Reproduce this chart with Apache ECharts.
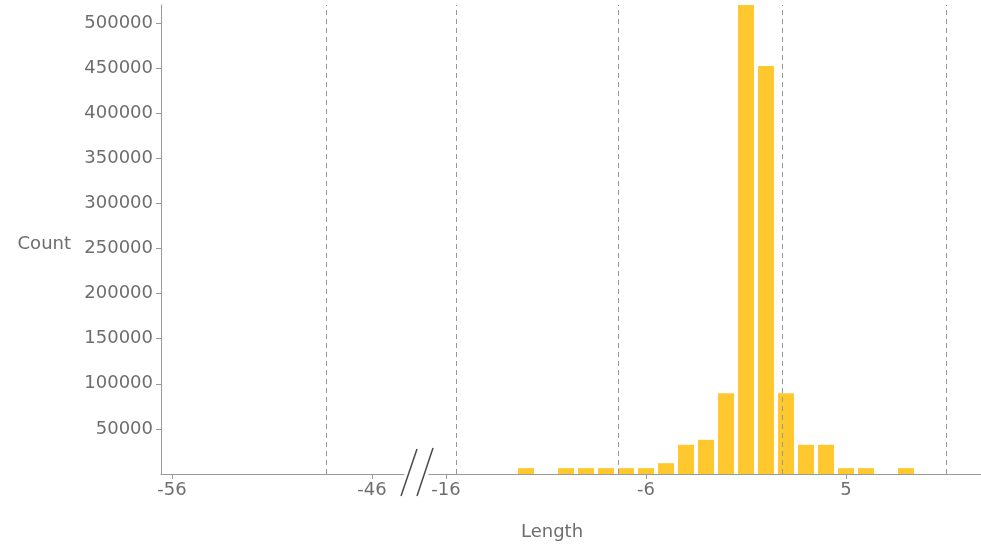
<!DOCTYPE html>
<html>
<head>
<meta charset="utf-8">
<script src="https://cdn.jsdelivr.net/npm/echarts@6/dist/echarts.min.js"></script>
<style>
  html, body { margin: 0; padding: 0; background: #fff; }
  #chart { width: 981px; height: 548px; }
</style>
</head>
<body>
<div id="chart"></div>
<script>
// indel lengths (0 does not exist, so the axis skips it)
const lengths = [-12, -10, -9, -8, -7, -6, -5, -4, -3, -2, -1, 1, 2, 3, 4, 5, 6, 8];
const counts = [6500, 6500, 6500, 6500, 6500, 6500, 12000, 32400, 37900, 89600, 520000, 452500, 89600, 32400, 32400, 6500, 6500, 6500];
const guideLengths = [-48.3, -15.5, -7.4, 1.8, 10.0];
const leftTicks = [-56, -46];
const rightTicks = [-16, -6, 5];
const countTicks = [50000, 100000, 150000, 200000, 250000, 300000, 350000, 400000, 450000, 500000];

// axis position: positive lengths shift down by one since there is no 0
const toPos = v => (v > 0 ? v - 1 : v);
const toLabel = p => (p >= 0 ? p + 1 : p);

const leftMin = -56.55, leftMax = -44.4;
const rightMin = -16.85, rightMax = 10.75;
const yMax = 520000;

const textColor = '#6e6e6e';
const axisColor = '#9a9a9a';
const font = 'DejaVu Sans';
const fontSize = 18;

const chart = echarts.init(document.getElementById('chart'), null, { renderer: 'canvas' });

const guideLine = v => ({ xAxis: toPos(v) });
const markLineStyle = {
    silent: true,
    symbol: 'none',
    label: { show: false },
    lineStyle: { color: '#999999', type: [5, 4], width: 1 },
    animation: false
};

const xAxisBase = {
    type: 'value',
    splitLine: { show: false },
    axisLine: { onZero: false, lineStyle: { color: axisColor, width: 1 } },
    axisTick: { length: 5, lineStyle: { color: axisColor } },
    axisLabel: { color: textColor, fontFamily: font, fontSize: fontSize, margin: 7 }
};

const yAxisBase = {
    type: 'value',
    min: 0,
    max: yMax,
    splitLine: { show: false },
    axisLine: { show: true, lineStyle: { color: axisColor, width: 1 } },
    axisTick: { show: true, length: 5, lineStyle: { color: axisColor }, customValues: countTicks },
    axisLabel: {
        color: textColor, fontFamily: font, fontSize: fontSize, margin: 8,
        customValues: countTicks,
        formatter: v => String(v)
    }
};

chart.setOption({
    animation: false,
    backgroundColor: '#ffffff',
    title: {
        text: 'Length',
        left: 547,
        top: 518,
        textAlign: 'center',
        textStyle: { color: textColor, fontFamily: font, fontSize: fontSize, fontWeight: 'normal' }
    },
    grid: [
        { left: 161, right: 981 - 404, top: 5, bottom: 74 },
        { left: 429, right: 0, top: 5, bottom: 74 }
    ],
    xAxis: [
        Object.assign({}, xAxisBase, {
            gridIndex: 0, min: leftMin, max: leftMax,
            axisTick: Object.assign({}, xAxisBase.axisTick, { customValues: leftTicks }),
            axisLabel: Object.assign({}, xAxisBase.axisLabel, { customValues: leftTicks })
        }),
        Object.assign({}, xAxisBase, {
            gridIndex: 1, min: rightMin, max: rightMax,
            axisTick: Object.assign({}, xAxisBase.axisTick, { customValues: rightTicks.map(toPos) }),
            axisLabel: Object.assign({}, xAxisBase.axisLabel, {
                customValues: rightTicks.map(toPos),
                formatter: v => String(toLabel(Math.round(v)))
            })
        })
    ],
    yAxis: [
        Object.assign({}, yAxisBase, {
            gridIndex: 0,
            name: 'Count',
            nameLocation: 'middle',
            nameRotate: 0,
            nameGap: 90,
            nameTextStyle: {
                color: textColor, fontFamily: font, fontSize: fontSize, align: 'right',
                verticalAlign: 'top', lineHeight: 10
            }
        }),
        Object.assign({}, yAxisBase, {
            gridIndex: 1,
            axisLine: { show: false },
            axisTick: { show: false },
            axisLabel: { show: false }
        })
    ],
    series: [
        {
            type: 'bar',
            xAxisIndex: 0,
            yAxisIndex: 0,
            data: [],
            markLine: Object.assign({}, markLineStyle, {
                data: guideLengths.filter(v => v < leftMax).map(guideLine)
            })
        },
        {
            type: 'bar',
            xAxisIndex: 1,
            yAxisIndex: 1,
            barWidth: 16,
            itemStyle: { color: '#ffc82e' },
            data: lengths.map((v, i) => [toPos(v), counts[i]]),
            markLine: Object.assign({}, markLineStyle, {
                data: guideLengths.filter(v => v > rightMin).map(guideLine)
            })
        }
    ],
    graphic: [
        { type: 'line', shape: { x1: 401, y1: 496, x2: 417, y2: 449 }, style: { stroke: '#4a4a4a', lineWidth: 1.5 } },
        { type: 'line', shape: { x1: 417, y1: 496, x2: 433, y2: 448 }, style: { stroke: '#4a4a4a', lineWidth: 1.5 } }
    ]
});
</script>
</body>
</html>
